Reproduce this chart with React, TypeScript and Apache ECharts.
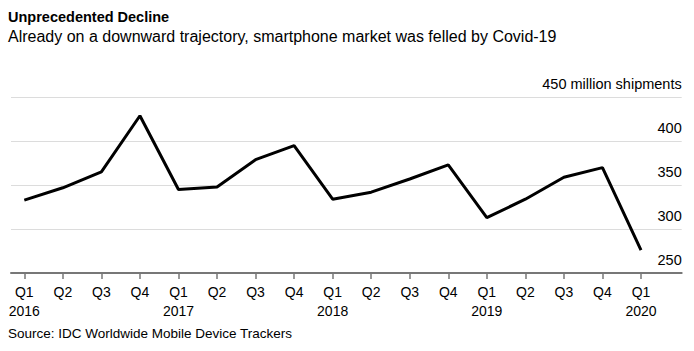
import React, { useEffect, useRef } from "react";
import * as echarts from "echarts";

const quarters = ["Q1","Q2","Q3","Q4","Q1","Q2","Q3","Q4","Q1","Q2","Q3","Q4","Q1","Q2","Q3","Q4","Q1"];
const years = ["2016","","","","2017","","","","2018","","","","2019","","","","2020"];
const shipments = [333, 347, 365, 429, 345, 348, 379, 395, 334, 342, 357, 373, 313, 334, 359, 370, 276];
const yTicks = [250, 300, 350, 400, 450];

const FONT = "'Liberation Sans', Arial, sans-serif";

export default function App() {
  const ref = useRef<HTMLDivElement>(null);
  useEffect(() => {
    document.body.style.margin = "0";
    const chart = echarts.init(ref.current!, null, { renderer: "svg" });
    const idx = quarters.map((_, i) => i);
    chart.setOption({
      animation: false,
      textStyle: { fontFamily: FONT },
      title: [
        { text: "Unprecedented Decline", left: 8, top: 9, padding: 0, textStyle: { fontFamily: FONT, fontSize: 14.5, fontWeight: "bold", color: "#000" } },
        { text: "Already on a downward trajectory, smartphone market was felled by Covid-19", left: 8, top: 28, padding: 0, textStyle: { fontFamily: FONT, fontSize: 16, fontWeight: "normal", color: "#000" } },
        { text: "Source: IDC Worldwide Mobile Device Trackers", left: 8, top: 326, padding: 0, textStyle: { fontFamily: FONT, fontSize: 13.5, fontWeight: "normal", color: "#000" } },
      ],
      grid: { left: 11, right: 12.3, top: 97.3, bottom: 78 },
      xAxis: {
        type: "value",
        min: -0.345,
        max: 17.056,
        splitLine: { show: false },
        axisLine: { show: true, onZero: false, lineStyle: { color: "#777", width: 2 } },
        axisTick: { show: true, customValues: idx, length: 6, lineStyle: { color: "#777", width: 1.5 } },
        axisLabel: {
          customValues: idx,
          margin: 9,
          fontFamily: FONT,
          fontSize: 14,
          lineHeight: 19,
          color: "#000",
          formatter: (v: number) => {
            const i = Math.round(v);
            return years[i] ? quarters[i] + "\n" + years[i] : quarters[i];
          },
        },
      },
      yAxis: {
        type: "value",
        position: "right",
        min: yTicks[0],
        max: yTicks[yTicks.length - 1],
        interval: 50,
        axisLine: { show: false },
        axisTick: { show: false },
        splitLine: { show: true, lineStyle: { color: "#dcdcdc", width: 1 } },
        axisLabel: {
          inside: true,
          align: "right",
          verticalAlign: "bottom",
          margin: 0,
          padding: [0, 0, 5, 0],
          fontFamily: FONT,
          fontSize: 14.5,
          lineHeight: 17,
          color: "#000",
          showMinLabel: true,
          showMaxLabel: true,
          formatter: (v: number) => (v === 450 ? "450 million shipments" : String(v)),
        },
      },
      series: [
        {
          type: "line",
          data: shipments.map((v, i) => [i, v]),
          symbol: "none",
          lineStyle: { color: "#000", width: 3 },
          z: 5,
        },
      ],
    });
    return () => chart.dispose();
  }, []);
  return <div ref={ref} style={{ width: 694, height: 351 }} />;
}
